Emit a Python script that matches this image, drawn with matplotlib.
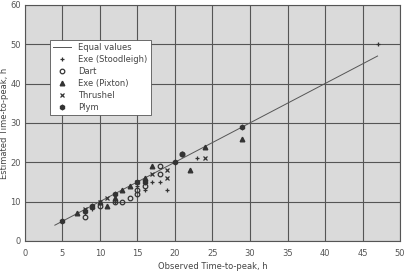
import matplotlib.pyplot as plt

# observed vs estimated time-to-peak (h)
equal_line = [4, 47]

stoodleigh_obs = [8, 9, 12, 15, 16, 17, 18, 19, 23, 47]
stoodleigh_est = [7, 8, 10, 14, 13, 15, 15, 13, 21, 50]

dart_obs = [8, 10, 12, 13, 14, 15, 15, 16, 18, 18, 21]
dart_est = [6, 9, 10, 10, 11, 12, 13, 14, 17, 19, 22]

pixton_obs = [7, 9, 10, 11, 12, 13, 14, 16, 17, 22, 24, 29]
pixton_est = [7, 9, 10, 9, 11, 13, 14, 16, 19, 18, 24, 26]

thrushel_obs = [8, 10, 11, 15, 17, 19, 19, 24]
thrushel_est = [8, 10, 11, 15, 17, 18, 16, 21]

plym_obs = [5, 8, 9, 12, 15, 16, 20, 21, 29]
plym_est = [5, 7.5, 9, 12, 15, 15, 20, 22, 29]

plt.rcParams['font.family'] = 'DejaVu Sans'
plt.rcParams['font.size'] = 6

fig = plt.figure(figsize=(4.07, 2.71), dpi=100)
ax = fig.add_axes([0.061, 0.111, 0.922, 0.871])
ax.set_facecolor('#dadada')

ax.plot(equal_line, equal_line, color='#555555', linewidth=0.7, label='Equal values')
mk = dict(linestyle='none', color='#333333', markersize=3.3)
ax.plot(stoodleigh_obs, stoodleigh_est, marker='+', markeredgewidth=0.9, label='Exe (Stoodleigh)', **mk)
ax.plot(dart_obs, dart_est, marker='o', fillstyle='none', markeredgewidth=0.9, label='Dart', **mk)
ax.plot(pixton_obs, pixton_est, marker='^', label='Exe (Pixton)', **mk)
ax.plot(thrushel_obs, thrushel_est, marker='x', markeredgewidth=0.9, label='Thrushel', **mk)
ax.plot(plym_obs, plym_est, marker='h', label='Plym', **mk)

ax.set_xlim(0, 50)
ax.set_ylim(0, 60)
ax.set_xticks(range(0, 51, 5))
ax.set_yticks(range(0, 61, 10))
ax.grid(True, color='#555555', linewidth=0.8)
ax.set_axisbelow(True)
for s in ax.spines.values():
    s.set_color('#555555')
    s.set_linewidth(0.8)
ax.tick_params(axis='x', length=0, pad=6, colors='#555555')
ax.tick_params(axis='y', length=0, pad=3, colors='#555555')

ax.set_xlabel('Observed Time-to-peak, h', color='#444444', labelpad=3)
ax.set_ylabel('Estimated Time-to-peak, h', color='#444444', labelpad=1)

leg = ax.legend(loc='upper left', bbox_to_anchor=(0.055, 0.87), fancybox=False,
                framealpha=1, edgecolor='#555555', labelcolor='#444444',
                borderpad=0.4, labelspacing=0.35, handlelength=2.2)
leg.get_frame().set_linewidth(0.6)

fig.savefig('out.png', dpi=100)
